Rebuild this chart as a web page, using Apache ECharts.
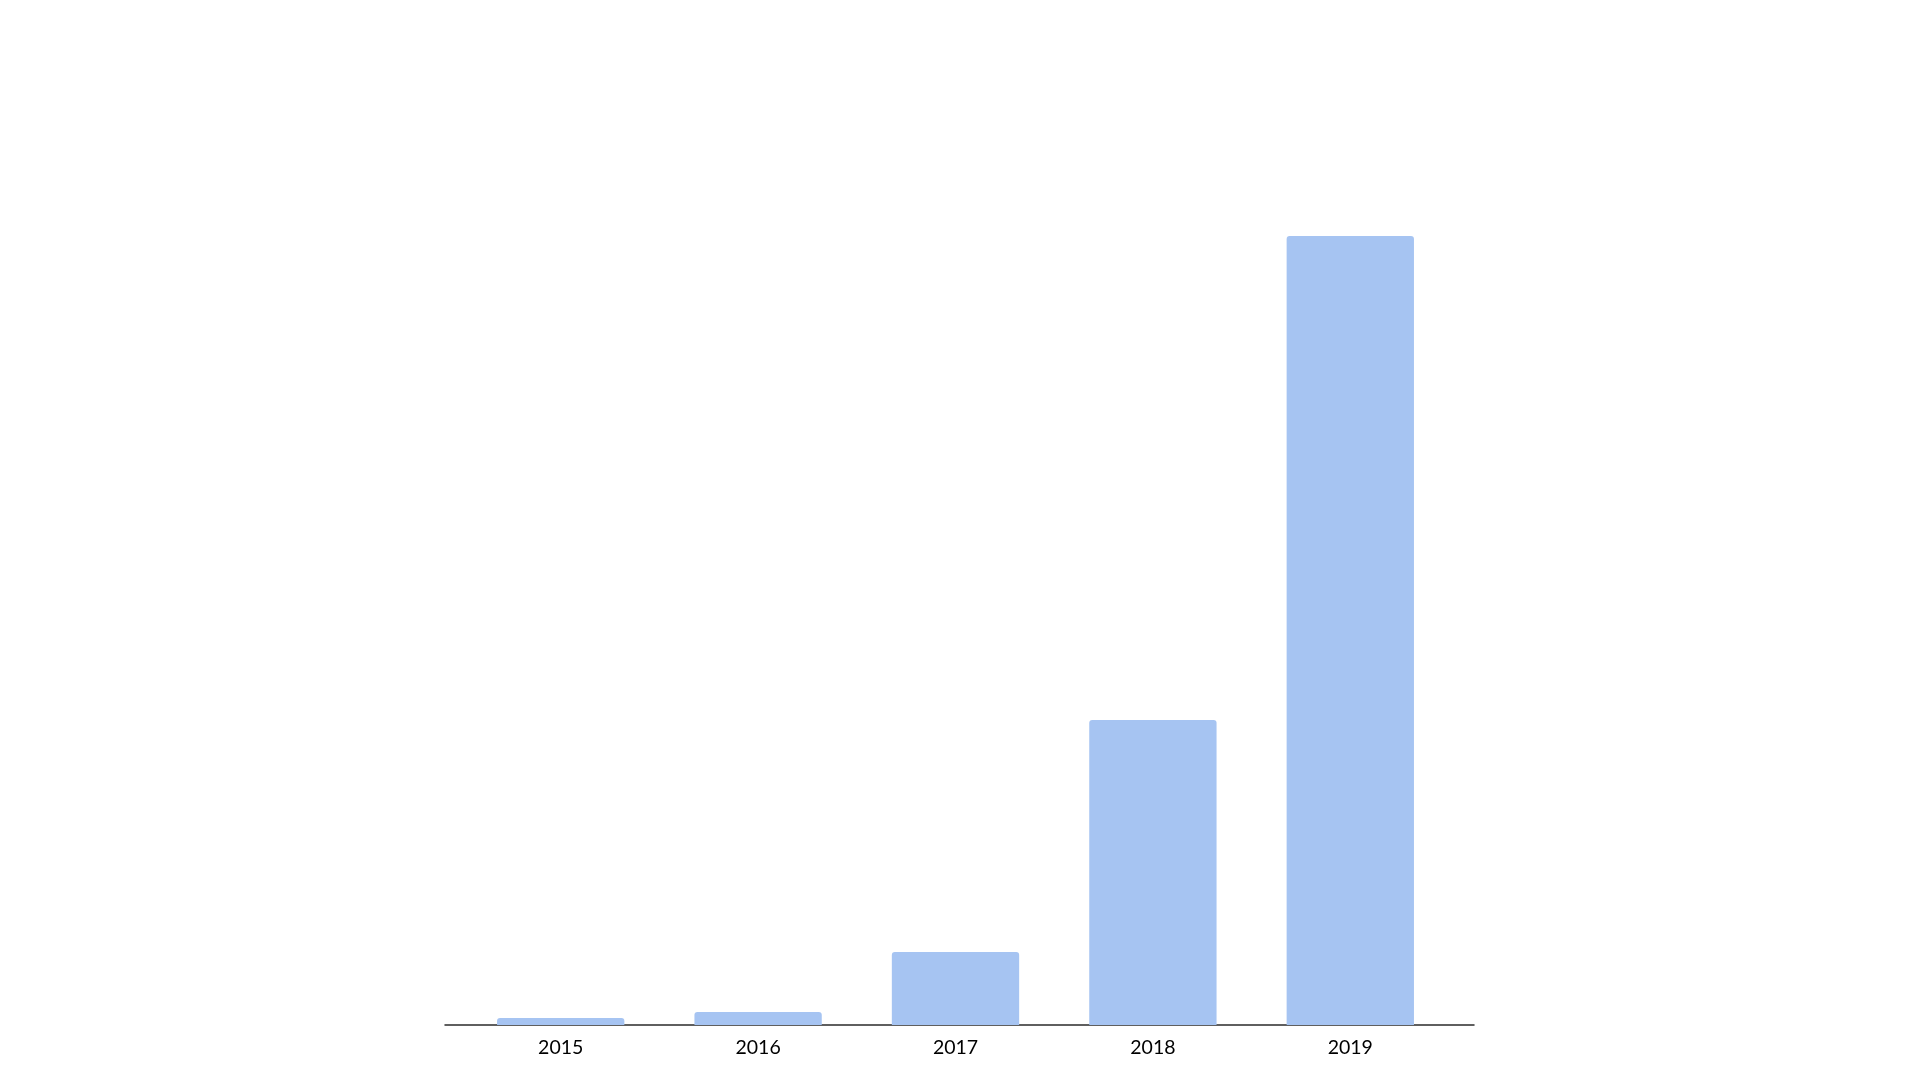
<!DOCTYPE html>
<html>
<head>
<meta charset="utf-8">
<script src="https://cdn.jsdelivr.net/npm/echarts@6/dist/echarts.min.js"></script>
<style>
  html, body { margin: 0; padding: 0; background: #fff; }
  #main { width: 1920px; height: 1080px; }
</style>
</head>
<body>
<div id="main"></div>
<script>
// data (no y axis shown, relative heights)
var years = ['2015', '2016', '2017', '2018', '2019'];
var values = [7, 13, 73, 305, 789];
var yMax = 789;

var myChart = echarts.init(document.getElementById('main'));

var option = {
    backgroundColor: '#ffffff',
    animation: false,
    grid: [
        // bars
        { left: 462, right: 471, top: 236, bottom: 55 },
        // wider grid only for the baseline
        { left: 445, right: 446, top: 236, bottom: 55 }
    ],
    xAxis: [
        {
            type: 'category',
            gridIndex: 0,
            data: years,
            axisLine: { show: false },
            axisTick: { show: false },
            axisLabel: {
                color: '#000000',
                fontSize: 19.5,
                fontFamily: 'Lato',
                margin: 13
            }
        },
        {
            type: 'category',
            gridIndex: 1,
            data: [],
            axisLine: { show: true, lineStyle: { color: '#2b2b2b', width: 1.5 } },
            axisTick: { show: false },
            axisLabel: { show: false }
        }
    ],
    yAxis: [
        { type: 'value', gridIndex: 0, min: 0, max: yMax, show: false, splitLine: { show: false } },
        { type: 'value', gridIndex: 1, min: 0, max: yMax, show: false, splitLine: { show: false } }
    ],
    series: [{
        type: 'bar',
        xAxisIndex: 0,
        yAxisIndex: 0,
        data: values,
        barWidth: '64.5%',
        itemStyle: {
            color: '#a6c4f2',
            borderRadius: [3, 3, 0, 0]
        }
    }]
};

myChart.setOption(option);
</script>
</body>
</html>
